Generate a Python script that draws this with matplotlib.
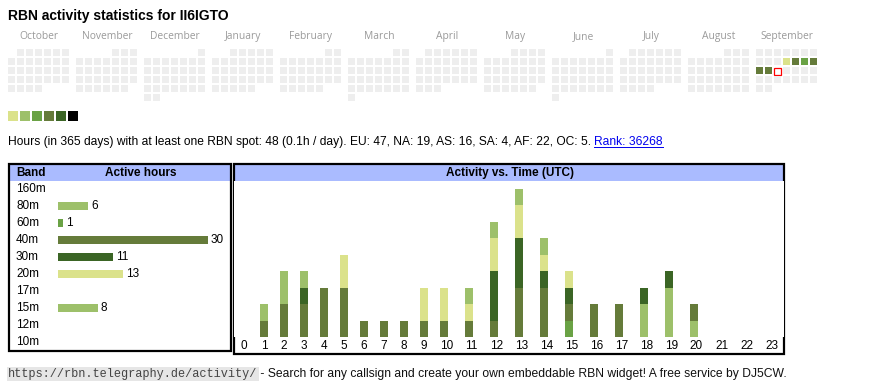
import datetime as dt
import numpy as np
import matplotlib
matplotlib.use('Agg')
import matplotlib.pyplot as plt
from matplotlib.patches import Rectangle
from matplotlib.lines import Line2D

W, H = 870, 390

callsign = 'II6IGTO'
months = ['October', 'November', 'December', 'January', 'February', 'March',
          'April', 'May', 'June', 'July', 'August', 'September']
first_day = dt.date(2024, 10, 1)
last_day = dt.date(2025, 9, 30)
today = dt.date(2025, 9, 17)
# activity level (index into level_colors) per active day
active_days = {dt.date(2025, 9, 11): 0, dt.date(2025, 9, 12): 3,
               dt.date(2025, 9, 13): 2, dt.date(2025, 9, 14): 3,
               dt.date(2025, 9, 15): 3, dt.date(2025, 9, 16): 3}
level_colors = ['#dbe28b', '#9dc06a', '#6aa245', '#657b3a', '#3b6525', '#000000']

summary = ('Hours (in 365 days) with at least one RBN spot: 48 (0.1h / day). '
           'EU: 47, NA: 19, AS: 16, SA: 4, AF: 22, OC: 5. ')
rank = 'Rank: 36268'

bands = ['160m', '80m', '60m', '40m', '30m', '20m', '17m', '15m', '12m', '10m']
band_hours = [0, 6, 1, 30, 11, 13, 0, 8, 0, 0]
band_colors = ['#dbe28b', '#9dc06a', '#6aa245', '#657b3a', '#3b6525',
               '#dbe28b', '#6aa245', '#9dc06a', '#657b3a', '#3b6525']

hours = list(range(24))
# active hours per UTC hour, per band (stacked bottom to top)
hours_by_band = {
    '80m': [0, 0, 0, 0, 0, 0, 0, 0, 0, 0, 0, 0, 0, 0, 0, 0, 0, 0, 2, 3, 1, 0, 0, 0],
    '60m': [0, 0, 0, 0, 0, 0, 0, 0, 0, 0, 0, 0, 0, 0, 0, 1, 0, 0, 0, 0, 0, 0, 0, 0],
    '40m': [0, 1, 2, 2, 3, 3, 1, 1, 1, 1, 1, 1, 1, 3, 3, 1, 2, 2, 0, 0, 1, 0, 0, 0],
    '30m': [0, 0, 0, 1, 0, 0, 0, 0, 0, 0, 0, 0, 3, 3, 1, 1, 0, 0, 1, 1, 0, 0, 0, 0],
    '20m': [0, 0, 0, 0, 0, 2, 0, 0, 0, 2, 2, 1, 2, 2, 1, 1, 0, 0, 0, 0, 0, 0, 0, 0],
    '15m': [0, 1, 2, 1, 0, 0, 0, 0, 0, 0, 0, 1, 1, 1, 1, 0, 0, 0, 0, 0, 0, 0, 0, 0],
}

footer_url = 'https://rbn.telegraphy.de/activity/'
footer_text = ' - Search for any callsign and create your own embeddable RBN widget! A free service by DJ5CW.'

SANS = 'Liberation Sans'
HEAD_BLUE = '#aabbff'
FS = 8.5


def px(x, y, w, h):
    # pixel box (top-left origin) -> figure fraction
    return [x / W, 1 - (y + h) / H, w / W, h / H]


fig = plt.figure(figsize=(W / 100, H / 100), dpi=100)
bg = fig.add_axes([0, 0, 1, 1])
bg.set_xlim(0, W)
bg.set_ylim(H, 0)
bg.axis('off')

bg.text(8, 16, 'RBN activity statistics for ' + callsign, fontsize=10,
        fontweight='bold', family=SANS, va='center')

# calendar
d = first_day
while d <= last_day:
    m = (d.year - first_day.year) * 12 + d.month - first_day.month
    offset = d.replace(day=1).weekday()
    row = (d.day - 1 + offset) // 7
    col = d.weekday()
    x = 8 + m * 68 + col * 9
    y = 49 + row * 9
    if d == today:
        bg.add_patch(Rectangle((x + 0.5, y + 0.5), 7, 7, facecolor='white',
                               edgecolor='red', lw=0.9))
    else:
        c = level_colors[active_days[d]] if d in active_days else '#eeeeee'
        bg.add_patch(Rectangle((x, y), 7, 7, facecolor=c, lw=0))
    d += dt.timedelta(days=1)

for i, name in enumerate(months):
    bg.text(8 + i * 68 + 31, 39, name, fontsize=7.4, color='#9a9a9a',
            family='Open Sans', ha='center', va='baseline')

for i, c in enumerate(level_colors):
    bg.add_patch(Rectangle((8 + i * 12, 111), 10, 10, facecolor=c, lw=0))

t1 = bg.text(8, 142, summary, fontsize=8.65, family=SANS, va='center')
t2 = bg.annotate(rank, xy=(1, 0.5), xycoords=t1, va='center', fontsize=8.65,
                 family=SANS, color='#0000ee')

# boxes and headers
for x0, y0, x1, y1 in [(9, 164, 231, 351), (234, 164, 784, 354)]:
    bg.add_patch(Rectangle((x0 + 1, y0 + 1), x1 - x0 - 2, 16, facecolor=HEAD_BLUE, lw=0))
    bg.add_patch(Rectangle((x0, y0), x1 - x0, y1 - y0, facecolor='none',
                           edgecolor='black', lw=1.6))
bg.text(16, 173, 'Band', fontsize=FS, fontweight='bold', family=SANS, va='center')
bg.text(141, 173, 'Active hours', fontsize=FS, fontweight='bold', family=SANS,
        va='center', ha='center')
bg.text(510, 173, 'Activity vs. Time (UTC)', fontsize=FS, fontweight='bold',
        family=SANS, va='center', ha='center')

# band table
ax1 = fig.add_axes(px(58, 180.5, 160, 170))
ax1.set_xlim(0, 32)
ax1.set_ylim(len(bands) - 0.5, -0.5)
ax1.axis('off')
ypos = np.arange(len(bands))
ax1.barh(ypos, band_hours, height=0.42, color=band_colors)
for i, (b, v) in enumerate(zip(bands, band_hours)):
    ax1.text(-42 / 160, i, b, transform=ax1.get_yaxis_transform(), fontsize=FS,
             family=SANS, va='center')
    if v:
        ax1.annotate(str(v), xy=(v, i), xytext=(3, 0), textcoords='offset pixels',
                     fontsize=FS, family=SANS, va='center')

# activity vs time
labels = [str(h) for h in hours]
col_w = np.array([20 if len(s) == 1 else 25 for s in labels])
col_start = np.concatenate([[0], np.cumsum(col_w)[:-1]])
bar_x = col_start + 10
ax2 = fig.add_axes(px(234, 181, 550, 156))
ax2.set_xlim(0, 550)
ax2.set_ylim(0, 156 / 16.5)
for s in ax2.spines.values():
    s.set_visible(False)
ax2.set_yticks([])
ax2.set_xticks(col_start + col_w / 2, labels)
ax2.tick_params(axis='x', length=0, pad=2.2, labelsize=FS)
for lab in ax2.get_xticklabels():
    lab.set_family(SANS)
bottom = np.zeros(len(hours))
for b, vals in hours_by_band.items():
    vals = np.array(vals)
    ax2.bar(bar_x, vals, width=8, bottom=bottom,
            color=band_colors[bands.index(b)], lw=0)
    bottom += vals

# footer
t3 = bg.text(8, 374, footer_url, fontsize=8.6, family='Liberation Mono',
             color='#444444', va='center',
             bbox=dict(facecolor='#e6e6e6', edgecolor='none', pad=1))
bg.annotate(footer_text, xy=(1, 0.5), xycoords=t3, va='center', fontsize=8.75,
            family=SANS, color='#111111')

# underline the rank link
fig.canvas.draw()
bb = t2.get_window_extent()
fig.add_artist(Line2D([bb.x0 / W, bb.x1 / W], [(bb.y0 + 1) / H] * 2,
                      color='#0000ee', lw=0.7))

fig.savefig('out.png', dpi=100)
